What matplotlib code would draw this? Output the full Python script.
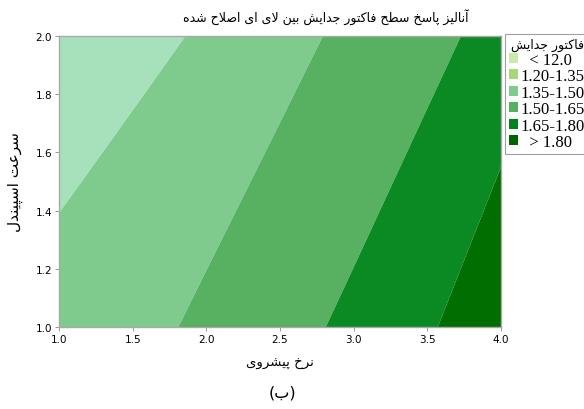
import numpy as np
import matplotlib
matplotlib.use("Agg")
import matplotlib.pyplot as plt
from matplotlib.patches import Patch

# ---- data -------------------------------------------------------------
feed_rate = [1.0, 1.5, 2.0, 2.5, 3.0, 3.5, 4.0]          # x
spindle_speed = [1.0, 2.0]                                # y
# separation factor estimated along the lower and upper spindle speed
sep_low_speed = [1.411, 1.446, 1.533, 1.599, 1.681, 1.780, 1.921]
sep_high_speed = [1.255, 1.317, 1.363, 1.458, 1.530, 1.607, 1.701]

levels = [0.0, 1.20, 1.35, 1.50, 1.65, 1.80, 3.0]
fill_colors = ["#c9eaa9", "#a7e1bb", "#7fcb8e", "#58b061", "#0b8a23", "#006e00"]
legend_colors = ["#c9eaa9", "#a8d77a", "#7ecc8c", "#56b060", "#00821e", "#006400"]
legend_labels = ["  < 12.0", "1.20-1.35", "1.35-1.50", "1.50-1.65", "1.65-1.80", "  > 1.80"]

x_ticks = [1.0, 1.5, 2.0, 2.5, 3.0, 3.5, 4.0]
y_ticks = [1.0, 1.2, 1.4, 1.6, 1.8, 2.0]

# ---- minimal Persian shaping (presentation forms, visual order) ---------
DUAL = {
    "ب": (0xFE8F, 0xFE90, 0xFE91, 0xFE92), "پ": (0xFB56, 0xFB57, 0xFB58, 0xFB59),
    "ت": (0xFE95, 0xFE96, 0xFE97, 0xFE98), "ج": (0xFE9D, 0xFE9E, 0xFE9F, 0xFEA0),
    "ح": (0xFEA1, 0xFEA2, 0xFEA3, 0xFEA4), "خ": (0xFEA5, 0xFEA6, 0xFEA7, 0xFEA8),
    "س": (0xFEB1, 0xFEB2, 0xFEB3, 0xFEB4), "ش": (0xFEB5, 0xFEB6, 0xFEB7, 0xFEB8),
    "ص": (0xFEB9, 0xFEBA, 0xFEBB, 0xFEBC), "ط": (0xFEC1, 0xFEC2, 0xFEC3, 0xFEC4),
    "ع": (0xFEC9, 0xFECA, 0xFECB, 0xFECC), "ف": (0xFED1, 0xFED2, 0xFED3, 0xFED4),
    "ک": (0xFB8E, 0xFB8F, 0xFB90, 0xFB91), "ل": (0xFEDD, 0xFEDE, 0xFEDF, 0xFEE0),
    "ن": (0xFEE5, 0xFEE6, 0xFEE7, 0xFEE8), "ه": (0xFEE9, 0xFEEA, 0xFEEB, 0xFEEC),
    "ی": (0xFBFC, 0xFBFD, 0xFBFE, 0xFBFF),
}
RIGHT = {
    "ا": (0xFE8D, 0xFE8E), "آ": (0xFE81, 0xFE82), "د": (0xFEA9, 0xFEAA),
    "ر": (0xFEAD, 0xFEAE), "ز": (0xFEAF, 0xFEB0), "و": (0xFEED, 0xFEEE),
}
LAM_ALEF = {"ا": (0xFEFB, 0xFEFC), "آ": (0xFEF5, 0xFEF6)}


def shape(text):
    chars = list(text)
    units = []
    i = 0
    while i < len(chars):
        c = chars[i]
        if c == "ل" and i + 1 < len(chars) and chars[i + 1] in LAM_ALEF:
            units.append(("LA", chars[i + 1]))
            i += 2
        else:
            units.append(("C", c))
            i += 1

    def joins_fwd(u):
        return u[0] == "C" and u[1] in DUAL

    def is_arabic(u):
        return u[0] == "LA" or u[1] in DUAL or u[1] in RIGHT

    out = []
    for k, u in enumerate(units):
        prev_j = k > 0 and joins_fwd(units[k - 1])
        nxt = units[k + 1] if k + 1 < len(units) else None
        if u[0] == "LA":
            iso, fin = LAM_ALEF[u[1]]
            out.append(chr(fin if prev_j else iso))
            continue
        c = u[1]
        if c in DUAL:
            nxt_j = nxt is not None and is_arabic(nxt)
            iso, fin, ini, med = DUAL[c]
            if prev_j and nxt_j:
                out.append(chr(med))
            elif prev_j:
                out.append(chr(fin))
            elif nxt_j:
                out.append(chr(ini))
            else:
                out.append(chr(iso))
        elif c in RIGHT:
            iso, fin = RIGHT[c]
            out.append(chr(fin if prev_j else iso))
        else:
            out.append(c)
    return "".join(reversed(out))


title_txt = shape("آنالیز پاسخ سطح فاکتور جدایش بین لای ای اصلاح شده")
xlabel_txt = shape("نرخ پیشروی")
ylabel_txt = shape("سرعت اسپیندل")
legend_title_txt = shape("فاکتور جدایش")
caption_txt = "(" + shape("ب") + ")"

# ---- figure -----------------------------------------------------------
plt.rcParams["font.family"] = ["DejaVu Sans"]
fig = plt.figure(figsize=(5.84, 4.10), dpi=100)
ax = fig.add_axes([59 / 584, 1 - 328 / 410, 442 / 584, 291 / 410])

X, Y = np.meshgrid(feed_rate, spindle_speed)
Z = np.array([sep_low_speed, sep_high_speed])
ax.contourf(X, Y, Z, levels=levels, colors=fill_colors, antialiased=True)

ax.set_xlim(1.0, 4.0)
ax.set_ylim(1.0, 2.0)
ax.set_xticks(x_ticks)
ax.set_yticks(y_ticks)
ax.set_xticklabels([f"{v:.1f}" for v in x_ticks])
ax.set_yticklabels([f"{v:.1f}" for v in y_ticks])
ax.tick_params(labelsize=7.5, colors="#888888", labelcolor="black",
               length=3, width=0.6, pad=2)
for sp in ax.spines.values():
    sp.set_color("#a9a9a9")
    sp.set_linewidth(1.0)

ax.set_xlabel(xlabel_txt, fontsize=9.5, labelpad=9)
ax.set_ylabel(ylabel_txt, fontsize=11, labelpad=9)
fig.text(326 / 584, 1 - 17 / 410, title_txt, fontsize=9, ha="center", va="center")
fig.text(282 / 584, 1 - 393 / 410, caption_txt, fontsize=11.5, ha="center", va="center")

handles = [Patch(facecolor=c, edgecolor="none") for c in legend_colors]
leg = fig.legend(handles, legend_labels, title=legend_title_txt,
                 loc="upper left", bbox_to_anchor=(505 / 584, 1 - 35 / 410),
                 frameon=True, fancybox=False, edgecolor="#888888",
                 prop={"family": "Liberation Serif", "size": 12},
                 title_fontproperties={"family": "DejaVu Sans", "size": 9},
                 handlelength=0.55, handleheight=0.55, handletextpad=0.15,
                 labelspacing=0.03, borderpad=0.25, borderaxespad=0.0)
leg.get_frame().set_linewidth(0.8)

fig.savefig("out.png", dpi=100)
